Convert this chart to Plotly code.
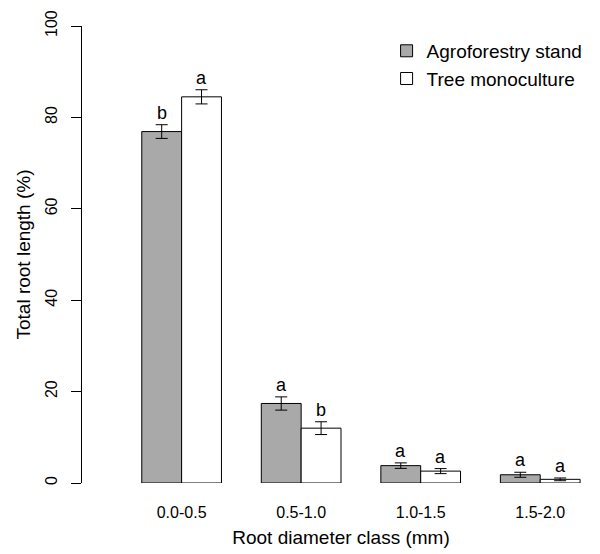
import plotly.graph_objects as go

categories = ["0.0-0.5", "0.5-1.0", "1.0-1.5", "1.5-2.0"]
agro_vals = [76.9, 17.4, 3.8, 1.8]
agro_err = [1.5, 1.45, 0.6, 0.55]
agro_letters = ["b", "a", "a", "a"]
mono_vals = [84.5, 12.0, 2.6, 0.8]
mono_err = [1.55, 1.4, 0.55, 0.3]
mono_letters = ["a", "b", "a", "a"]

FONT = "Liberation Sans, Arial, sans-serif"

centers = [3 * i + 2 for i in range(len(categories))]
x_agro = [c - 0.5 for c in centers]
x_mono = [c + 0.5 for c in centers]

fig = go.Figure()
fig.add_trace(go.Bar(
    x=x_agro, y=agro_vals, width=1, name="Agroforestry stand",
    marker=dict(color="#a9a9a9", line=dict(color="black", width=1)),
    error_y=dict(type="data", array=agro_err, color="black", thickness=1, width=6),
))
fig.add_trace(go.Bar(
    x=x_mono, y=mono_vals, width=1, name="Tree monoculture",
    marker=dict(color="white", line=dict(color="black", width=1)),
    error_y=dict(type="data", array=mono_err, color="black", thickness=1, width=6),
))

for xs, vals, errs, letters in [(x_agro, agro_vals, agro_err, agro_letters),
                                 (x_mono, mono_vals, mono_err, mono_letters)]:
    for x, v, e, t in zip(xs, vals, errs, letters):
        fig.add_annotation(x=x, y=v + e, text=t, showarrow=False,
                           xanchor="center", yanchor="bottom",
                           font=dict(family=FONT, size=18, color="black"))

fig.update_layout(
    width=600, height=554,
    margin=dict(l=82, r=0, t=26, b=71),
    paper_bgcolor="white", plot_bgcolor="white",
    font=dict(family=FONT, color="black"),
    showlegend=True,
    legend=dict(x=0.588, y=0.987, xanchor="left", yanchor="top",
                font=dict(family=FONT, size=19, color="black"),
                bgcolor="rgba(0,0,0,0)", tracegroupgap=0),
    barmode="overlay",
)
fig.update_xaxes(
    range=[-0.5, 12.5], tickmode="array", tickvals=centers, ticktext=categories,
    showline=False, showgrid=False, zeroline=False, ticks="",
    tickfont=dict(family=FONT, size=16, color="black"), ticklabelstandoff=18,
    title=dict(text="Root diameter class (mm)", font=dict(family=FONT, size=19, color="black"), standoff=10),
)
fig.update_yaxes(
    range=[0, 100], tickvals=[0, 20, 40, 60, 80, 100],
    showline=True, linecolor="black", linewidth=1, showgrid=False, zeroline=False,
    ticks="outside", ticklen=10, tickcolor="black", tickwidth=1, tickangle=-90,
    ticklabelstandoff=8,
    tickfont=dict(family=FONT, size=16, color="black"),
    title=dict(text="Total root length (%)", font=dict(family=FONT, size=19, color="black"), standoff=6),
)

fig.write_html("out.html")
